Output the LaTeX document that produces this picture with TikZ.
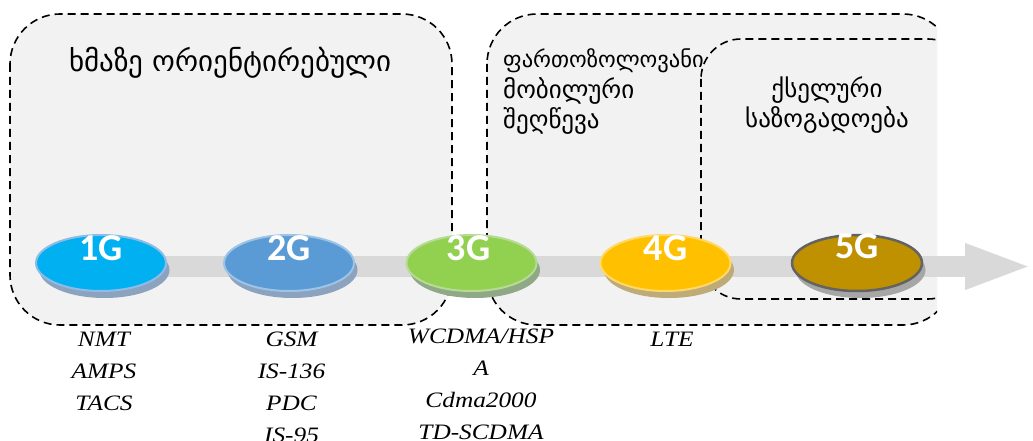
\documentclass[tikz,border=0pt]{standalone}
\usepackage{fontspec}
\usetikzlibrary{shapes.geometric,arrows.meta,shadows,calc}

\newfontfamily\geofont{DejaVu Sans}
\newfontfamily\genfont{Carlito}
\newfontfamily\stdfont[FakeStretch=1.15]{Liberation Serif}

\definecolor{panel}{HTML}{F2F2F2}
\definecolor{axis}{HTML}{D9D9D9}
\definecolor{gAfill}{HTML}{00B0F0}\definecolor{gAline}{HTML}{8FBCE6}\definecolor{gAshade}{HTML}{8CA3C0}
\definecolor{gBfill}{HTML}{5B9BD5}\definecolor{gBline}{HTML}{9DC3E6}\definecolor{gBshade}{HTML}{8CA3C0}
\definecolor{gCfill}{HTML}{92D050}\definecolor{gCline}{HTML}{B7DB95}\definecolor{gCshade}{HTML}{8FA886}
\definecolor{gDfill}{HTML}{FFC000}\definecolor{gDline}{HTML}{FFD966}\definecolor{gDshade}{HTML}{BFAB77}
\definecolor{gEfill}{HTML}{BF9000}\definecolor{gEline}{HTML}{636363}\definecolor{gEshade}{HTML}{A6A6A6}

\tikzset{
  erabox/.style={fill=panel, draw=black, line width=1.6pt,
    dash pattern=on 8pt off 5pt, rounded corners=50pt},
  timeline/.style={draw=axis, line width=21pt,
    -{Triangle[length=68pt,width=41pt]}},
  gen/.style={ellipse, minimum width=130pt, minimum height=56pt,
    inner sep=0pt, line width=2pt},
  genshade/.style={drop shadow={shadow xshift=3.5pt, shadow yshift=-7pt,
    fill=#1, opacity=1}},
  glabel/.style={anchor=base, inner sep=0pt, text=white,
    font=\genfont\bfseries\fontsize{38}{38}\selectfont},
  stdlabel/.style={anchor=base, align=center, inner sep=0pt,
    font=\stdfont\itshape\fontsize{22}{32}\selectfont},
  heading/.style={inner sep=0pt, font=\geofont\fontsize{29}{32}\selectfont},
  subhead/.style={inner sep=0pt, font=\geofont\fontsize{25}{30.5}\selectfont}
}

\begin{document}
\begin{tikzpicture}[x=1pt,y=-1pt]
\useasboundingbox (0,0) rectangle (1033,441);

% era panels
\path[erabox] (10,14) rectangle (452,325);
\begin{scope}
  \clip (0,0) rectangle (937,441);
  \path[erabox] (487,14) rectangle (953,325);
  \path[erabox, rounded corners=40pt] (701,39) rectangle (968,299);
\end{scope}

% panel titles (multi-line nodes are anchored on their last baseline)
\node[heading, anchor=base] (voice) at (230.5,72) {ხმაზე ორიენტირებული};
\node[subhead, anchor=base west, align=left] (broad) at (503,128.5)
  {{\fontsize{22.5}{30.5}\selectfont ფართოზოლოვანი}\\მობილური\\შეღწევა};
\node[subhead, anchor=base, align=center] (net) at (827,128)
  {ქსელური\\საზოგადოება};

% time axis
\coordinate (tail) at (101,266.5);
\coordinate (tip) at (1033,266.5);
\draw[timeline] (tail) -- (tip);

% generations
\node[gen, fill=gAfill, draw=gAline, genshade=gAshade] (g1) at (101,263) {};
\node[gen, fill=gBfill, draw=gBline, genshade=gBshade] (g2) at (289,263) {};
\node[gen, fill=gCfill, draw=gCline, genshade=gCshade] (g3) at (471.5,263) {};
\node[gen, fill=gDfill, draw=gDline, genshade=gDshade] (g4) at (665.5,263) {};
\node[gen, fill=gEfill, draw=gEline, genshade=gEshade, line width=2.5pt] (g5) at (857,263) {};

\node[glabel] (t1) at ($(g1.center)+(0,-3)$) {1G};
\node[glabel] (t2) at ($(g2.center)+(0,-3)$) {2G};
\node[glabel] (t3) at ($(g3.center)+(-3,-3)$) {3G};
\node[glabel] (t4) at ($(g4.center)+(0,-3)$) {4G};
\node[glabel] (t5) at ($(g5.center)+(0,-5)$) {5G};

% standards of each generation
\node[stdlabel] (s1) at (104,410) {NMT\\AMPS\\TACS};
\node[stdlabel] (s2) at (291.5,442) {GSM\\IS-136\\PDC\\IS-95};
\node[stdlabel] (s3) at (481,439) {WCDMA/HSP\\A\\Cdma2000\\TD-SCDMA};
\node[stdlabel] (s4) at (672,346) {LTE};
\end{tikzpicture}
\end{document}
